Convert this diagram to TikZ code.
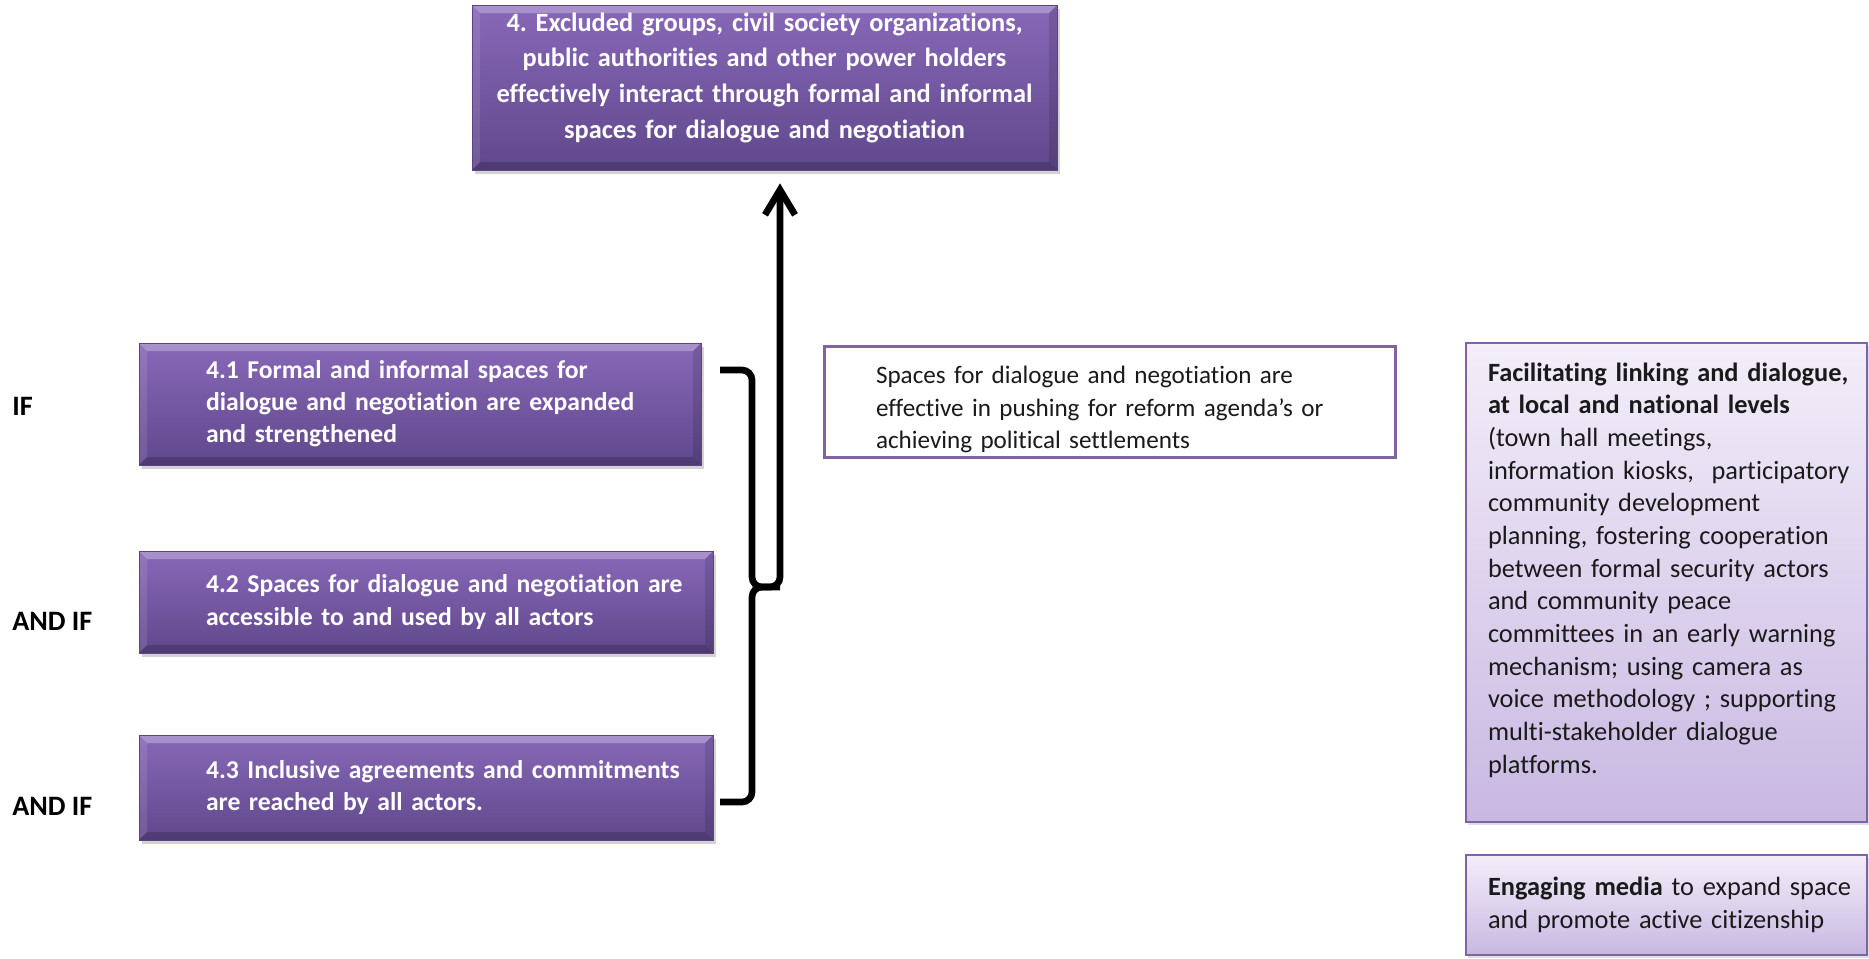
\documentclass[tikz,border=0pt]{standalone}
\usepackage{fontspec}
\setmainfont{Carlito}[Ligatures=NoCommon]
\usepackage{tikz}
\usetikzlibrary{arrows.meta,shadows,positioning}
\frenchspacing

\definecolor{goaltop}{RGB}{136,104,184}
\definecolor{goalbot}{RGB}{96,72,140}
\definecolor{goalline}{RGB}{92,68,132}
\definecolor{actline}{RGB}{128,100,162}
\definecolor{acttop}{RGB}{243,238,249}
\definecolor{actbot}{RGB}{200,184,226}
\definecolor{inktext}{RGB}{26,26,26}

\tikzset{
  bevel/.style={path picture={
    \fill[white,opacity=0.28] (path picture bounding box.north west) -- (path picture bounding box.north east)
      -- ([shift={(-0.16,-0.16)}]path picture bounding box.north east) -- ([shift={(0.16,-0.16)}]path picture bounding box.north west) -- cycle;
    \fill[white,opacity=0.10] (path picture bounding box.north west) -- (path picture bounding box.south west)
      -- ([shift={(0.16,0.16)}]path picture bounding box.south west) -- ([shift={(0.16,-0.16)}]path picture bounding box.north west) -- cycle;
    \fill[black,opacity=0.18] (path picture bounding box.south west) -- (path picture bounding box.south east)
      -- ([shift={(-0.16,0.16)}]path picture bounding box.south east) -- ([shift={(0.16,0.16)}]path picture bounding box.south west) -- cycle;
    \fill[black,opacity=0.12] (path picture bounding box.north east) -- (path picture bounding box.south east)
      -- ([shift={(-0.16,0.16)}]path picture bounding box.south east) -- ([shift={(-0.16,-0.16)}]path picture bounding box.north east) -- cycle;
  }}
}

\begin{document}
\begin{tikzpicture}
[goal/.style={rectangle,draw=goalline,top color=goaltop,bottom color=goalbot,text=white,inner sep=0pt,bevel,
   font=\bfseries\fontsize{14.6}{18.3}\selectfont,
   drop shadow={shadow xshift=0.05cm,shadow yshift=-0.07cm,opacity=0.35}},
 result/.style={goal,align=left,execute at begin node={\leftskip=1.34cm}},
 effect/.style={rectangle,draw=actline,line width=1.7pt,fill=white,text=inktext,inner sep=0pt,
   font=\fontsize{14.3}{18.4}\selectfont,text width=11.42cm,minimum height=2.22cm,align=left,
   execute at begin node={\leftskip=1.04cm}},
 activity/.style={rectangle,draw=actline,line width=0.8pt,top color=acttop,bottom color=actbot,
   text=inktext,inner sep=0pt,font=\fontsize{15}{18.6}\selectfont,text width=8.02cm,align=left,
   execute at begin node={\leftskip=0.44cm},
   drop shadow={shadow xshift=0.03cm,shadow yshift=-0.05cm,opacity=0.25}},
 cond/.style={anchor=west,inner sep=0pt,font=\bfseries\fontsize{16}{19}\selectfont},
 bracket/.style={line width=3.8pt,rounded corners=0.2cm}]
\useasboundingbox (0,0) rectangle (37.38,-19.16);

% outcome and results
\node[goal,text width=11.70cm,align=center,minimum height=3.30cm,font=\bfseries\fontsize{15}{20.3}\selectfont] (outcome) at (15.29,-1.75)
  {4. Excluded groups, civil society organizations,\\ public authorities and other power holders\\ effectively interact through formal and informal\\ spaces for dialogue and negotiation\par\vspace*{0.4cm}};
\node[result,text width=11.24cm,minimum height=2.44cm] (res1) at (8.40,-8.08)
  {4.1 Formal and informal spaces for\\ dialogue and negotiation are expanded\\ and strengthened};
\node[result,text width=11.48cm,minimum height=2.04cm] (res2) at (8.52,-12.04)
  {4.2 Spaces for dialogue and negotiation are\\ accessible to and used by all actors};
\node[result,text width=11.48cm,minimum height=2.10cm] (res3) at (8.52,-15.75)
  {4.3 Inclusive agreements and commitments\\ are reached by all actors.};

\node[cond] (if1) at (0.24,-8.12) {IF};
\node[cond] (if2) at (0.24,-12.42) {AND IF};
\node[cond] (if3) at (0.24,-16.12) {AND IF};

% assumption
\node[effect] (assume) at (22.19,-8.03)
  {Spaces for dialogue and negotiation are\\ effective in pushing for reform agenda’s or\\ achieving political settlements\par\vspace*{-0.32cm}};

% activities
\node[activity,minimum height=9.58cm] (act1) at (33.33,-11.65)
  {\textbf{Facilitating linking and dialogue,}\\ \textbf{at local and national levels}\\ (town hall meetings,\\
   information kiosks,\ \ participatory\\ community development\\ planning, fostering cooperation\\
   between formal security actors\\ and community peace\\ committees in an early warning\\
   mechanism; using camera as\\ voice methodology ; supporting\\ multi-stakeholder dialogue\\ platforms.\par\vspace*{0.5cm}};
\node[activity,minimum height=2.0cm] (act2) at (33.33,-18.10)
  {\textbf{Engaging media} to expand space\\ and promote active citizenship};

% bracket and arrow
\coordinate (bt) at (14.40,-7.40);
\coordinate (bb) at (14.40,-16.04);
\coordinate (bj) at (15.04,-11.74);
\coordinate (bm) at (15.60,-11.74);
\draw[bracket] (bt) -| (bj) -- (bm);
\draw[bracket,-{Straight Barb[length=5mm,width=6mm]},shorten >=0.26cm] (bb) -| (bj) -- (bm) -- (bm |- outcome.south);
\end{tikzpicture}
\end{document}
